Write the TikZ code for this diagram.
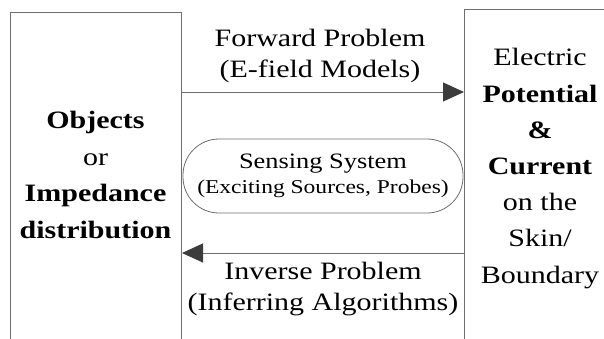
\documentclass[tikz,border=0pt]{standalone}
\usepackage{fontspec}
\setmainfont{Liberation Serif}[FakeStretch=1.2]
\usetikzlibrary{arrows.meta}
\definecolor{boxGray}{HTML}{6E6E6E}
\definecolor{headGray}{HTML}{3C3C3C}

\begin{document}
\begin{tikzpicture}[x=1pt, y=-1pt,
    box/.style={draw=boxGray, line width=1pt, inner sep=0pt, minimum height=360pt},
    txt/.style={align=center, inner sep=0pt, font=\fontsize{25}{31}\selectfont},
    flow/.style={draw=boxGray, line width=1pt, -{Triangle[length=21pt, width=19pt, color=headGray]}}]
                        \useasboundingbox (0,0) rectangle (604,338);
                        \clip (0,0) rectangle (604,338);

                        \node[box, minimum width=171pt, anchor=north west] (objbox) at (10,12) {};
                        \node[box, minimum width=170pt, anchor=north west] (potbox) at (464,9) {};
                        \node[txt, font=\fontsize{25}{36.5}\selectfont] (objects) at (95.5,175) {\textbf{Objects}\\or\\\textbf{Impedance}\\\textbf{distribution}};
                        \node[txt, font=\fontsize{25}{36.2}\selectfont] (potential) at (540,168.5) {Electric\\\textbf{Potential}\\\textbf{\&}\\\textbf{Current}\\on the\\Skin/\\Boundary};
                        \node[txt] (forward) at (320,56) {Forward Problem\\(E-field Models)};
                        \node[txt] (inverse) at (323,289) {Inverse Problem\\(Inferring Algorithms)};
                        \node[txt, draw=boxGray, line width=0.8pt, rounded corners=36pt, minimum width=280pt, minimum height=74pt, font=\fontsize{19.6}{25}\selectfont] (sensing) at (323,176) {{\fontsize{22}{25}\selectfont Sensing System}\\(Exciting Sources, Probes)};

                        \coordinate (fwdy) at (0,92);
                        \coordinate (invy) at (0,253);

                        \path
                            (objbox.east |- fwdy) edge[flow] (potbox.west |- fwdy)
                            (potbox.west |- invy) edge[flow] (objbox.east |- invy)
                        ;
                    \end{tikzpicture}
\end{document}
